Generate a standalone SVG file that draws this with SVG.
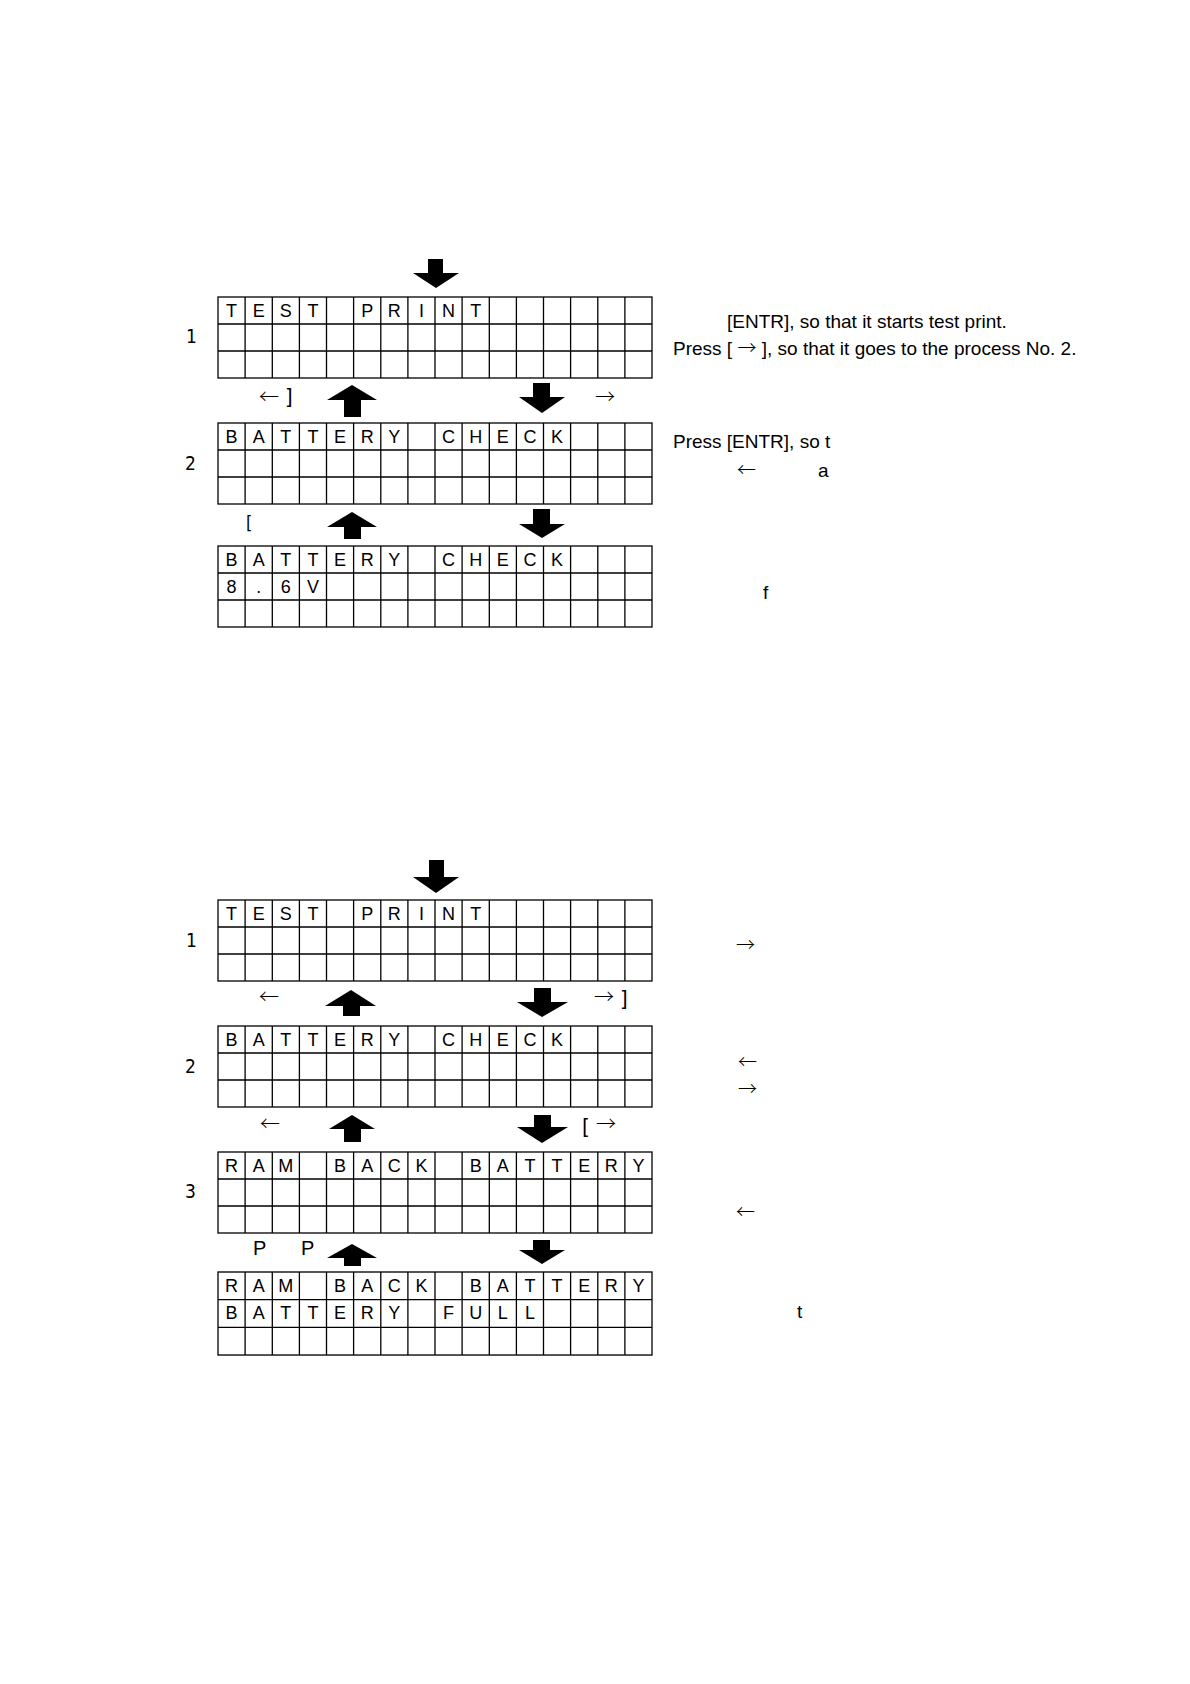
<svg xmlns="http://www.w3.org/2000/svg" xmlns:xlink="http://www.w3.org/1999/xlink" width="1190" height="1684" viewBox="0 0 1190 1684">
<style>
.gl{fill:none;stroke:#000;stroke-width:1.3}
.ch{font-family:"Liberation Sans",Arial,sans-serif;font-size:18px;fill:#000;text-anchor:middle}
.num{font-family:"DejaVu Sans Condensed","Liberation Sans",sans-serif;font-size:19px;fill:#000}
.lbl{font-family:"Liberation Sans",Arial,sans-serif;font-size:20px;fill:#000}
.txt{font-family:"Liberation Sans",Arial,sans-serif;font-size:19px;fill:#000}
.ar{font-family:"Noto Sans CJK JP","Liberation Sans",sans-serif;font-weight:300}
.br{font-family:"Liberation Sans Narrow","DejaVu Sans Condensed",sans-serif;font-size:22px}
.arr{fill:#000}
</style>
<defs>
<g id="grid" class="gl">
<rect x="218" y="0" width="434" height="81"/>
<path d="M218 27H652M218 54H652M245.1 0V81M272.3 0V81M299.4 0V81M326.5 0V81M353.6 0V81M380.8 0V81M407.9 0V81M435 0V81M462.1 0V81M489.3 0V81M516.4 0V81M543.5 0V81M570.6 0V81M597.8 0V81M624.9 0V81"/>
</g>
</defs>
<rect width="1190" height="1684" fill="#fff"/>

<g id="top-section">
<g id="t-screen1">
<use xlink:href="#grid" transform="translate(0,297)"/>
<text class="ch" x="231.6 258.7 285.8 312.9 340.1 367.2 394.3 421.4 448.6 475.7" y="316.5">TEST PRINT</text>
<text class="num" x="186" y="343">1</text>
</g>
<g id="t-screen2">
<use xlink:href="#grid" transform="translate(0,423)"/>
<text class="ch" x="231.6 258.7 285.8 312.9 340.1 367.2 394.3 421.4 448.6 475.7 502.8 529.9 557.1" y="442.5">BATTERY CHECK</text>
<text class="num" x="185" y="470">2</text>
</g>
<g id="t-screen3">
<use xlink:href="#grid" transform="translate(0,546)"/>
<text class="ch" x="231.6 258.7 285.8 312.9 340.1 367.2 394.3 421.4 448.6 475.7 502.8 529.9 557.1" y="565.5">BATTERY CHECK</text>
<text class="ch" x="231.6 258.7 285.8 312.9" y="592.5">8.6V</text>
</g>
<g id="t-connectors">
<polygon class="arr" points="428,259 443,259 443,273 459,273 436,288 413,273 428,273"/>
<polygon class="arr" points="352,385 377,400 361,400 361,417 344,417 344,400 327,400"/>
<polygon class="arr" points="533,383 550,383 550,397 565,397 542,413 519,397 533,397"/>
<polygon class="arr" points="352,512 377,527 361,527 361,539 344,539 344,527 327,527"/>
<polygon class="arr" points="533,509 550,509 550,524 565,524 542,538 519,524 533,524"/>
</g>
<g id="t-labels">
<text class="lbl ar" x="259" y="404">←</text>
<text class="lbl br" x="285" y="404">]</text>
<text class="lbl ar" x="595" y="404">→</text>
<text class="lbl br" x="246" y="529" style="font-size:18px">[</text>
<text class="txt" x="727" y="328">[ENTR], so that it starts test print.</text>
<text class="txt" x="673" y="355">Press [ <tspan class="ar">→</tspan> ], so that it goes to the process No. 2.</text>
<text class="txt" x="673" y="448">Press [ENTR], so t</text>
<text class="txt ar" x="737" y="477">←</text>
<text class="txt" x="818" y="477">a</text>
<text class="txt" x="763" y="599">f</text>
</g>
</g>

<g id="bottom-section">
<g id="b-screen1">
<use xlink:href="#grid" transform="translate(0,900)"/>
<text class="ch" x="231.6 258.7 285.8 312.9 340.1 367.2 394.3 421.4 448.6 475.7" y="919.5">TEST PRINT</text>
<text class="num" x="186" y="947">1</text>
</g>
<g id="b-screen2">
<use xlink:href="#grid" transform="translate(0,1026)"/>
<text class="ch" x="231.6 258.7 285.8 312.9 340.1 367.2 394.3 421.4 448.6 475.7 502.8 529.9 557.1" y="1045.5">BATTERY CHECK</text>
<text class="num" x="185" y="1073">2</text>
</g>
<g id="b-screen3">
<use xlink:href="#grid" transform="translate(0,1152)"/>
<text class="ch" x="231.6 258.7 285.8 312.9 340.1 367.2 394.3 421.4 448.6 475.7 502.8 529.9 557.1 584.2 611.3 638.4" y="1171.5">RAM BACK BATTERY</text>
<text class="num" x="185" y="1198">3</text>
</g>
<g id="b-screen4">
<use xlink:href="#grid" transform="translate(0,1272) scale(1,1.025)"/>
<text class="ch" x="231.6 258.7 285.8 312.9 340.1 367.2 394.3 421.4 448.6 475.7 502.8 529.9 557.1 584.2 611.3 638.4" y="1291.5">RAM BACK BATTERY</text>
<text class="ch" x="231.6 258.7 285.8 312.9 340.1 367.2 394.3 421.4 448.6 475.7 502.8 529.9" y="1318.5">BATTERY FULL</text>
</g>
<g id="b-connectors">
<polygon class="arr" points="429,860 444,860 444,877 459,877 436,893 413,877 429,877"/>
<polygon class="arr" points="351,990 376,1006 360,1006 360,1016 343,1016 343,1006 325,1006"/>
<polygon class="arr" points="534,988 551,988 551,1002 568,1002 542,1017 517,1002 534,1002"/>
<polygon class="arr" points="352,1115 375,1129 361,1129 361,1142 344,1142 344,1129 329,1129"/>
<polygon class="arr" points="534,1115 551,1115 551,1127 568,1127 542,1143 517,1127 534,1127"/>
<polygon class="arr" points="352,1244 377,1258 361,1258 361,1266 344,1266 344,1258 327,1258"/>
<polygon class="arr" points="533,1240 550,1240 550,1250 565,1250 542,1264 519,1250 533,1250"/>
</g>
<g id="b-labels">
<text class="lbl ar" x="259" y="1004">←</text>
<text class="lbl ar" x="594" y="1004">→</text>
<text class="lbl br" x="620" y="1006">]</text>
<text class="lbl ar" x="260" y="1131">←</text>
<text class="lbl br" x="582" y="1134">[</text>
<text class="lbl ar" x="596" y="1131">→</text>
<text class="lbl" x="253" y="1255">P</text>
<text class="lbl" x="301" y="1255">P</text>
<text class="txt ar" x="736" y="952">→</text>
<text class="txt ar" x="738" y="1069">←</text>
<text class="txt ar" x="738" y="1096">→</text>
<text class="txt ar" x="736" y="1219">←</text>
<text class="txt" x="797" y="1318">t</text>
</g>
</g>
</svg>
